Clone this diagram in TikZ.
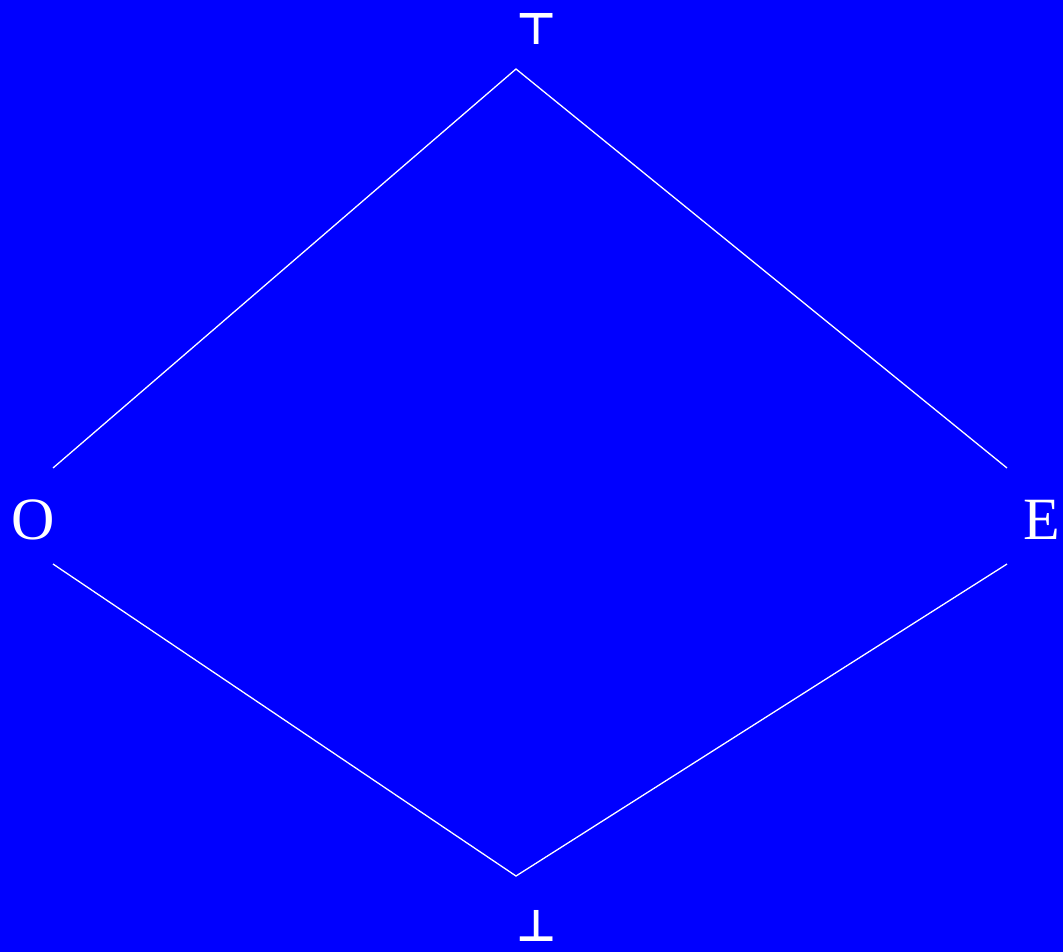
\documentclass[tikz,border=0pt]{standalone}
\usepackage{fontspec}
\setmainfont{Liberation Serif}
\newfontfamily\symfont{DejaVu Sans}
\begin{document}
\begin{tikzpicture}[x=1pt,y=-1pt,
  edge/.style={draw=white,line width=1.3pt},
  lbl/.style={text=white,inner sep=0pt,font=\fontsize{60}{60}\selectfont},
  sym/.style={text=white,inner sep=0pt,font=\symfont\bfseries\fontsize{44}{44}\selectfont}]
\fill[blue] (0,0) rectangle (1063,952);
\useasboundingbox (0,0) rectangle (1063,952);
\node[sym] (top) at (537,29) {⊤};
\node[sym] (bot) at (537,926) {⊥};
\node[lbl] (O) at (33,520) {O};
\node[lbl] (E) at (1042,520) {E};
\coordinate (vt) at (516,69);
\coordinate (vb) at (516,876);
\coordinate (ou) at (53,468);
\coordinate (ol) at (53,564);
\coordinate (eu) at (1007,468);
\coordinate (el) at (1007,564);
\draw[edge] (ou) -- (vt) -- (eu);
\draw[edge] (ol) -- (vb) -- (el);
\end{tikzpicture}
\end{document}
